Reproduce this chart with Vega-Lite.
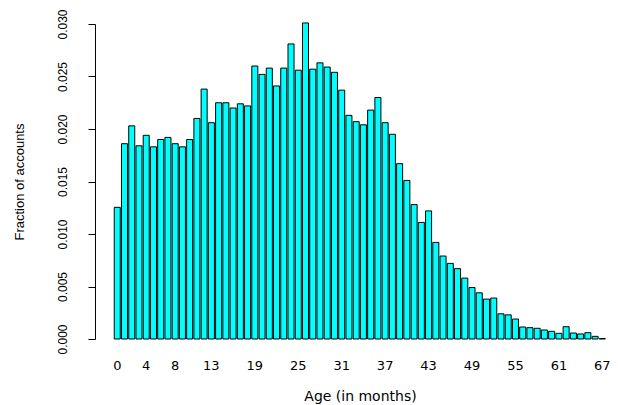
{
  "$schema": "https://vega.github.io/schema/vega-lite/v6.json",
  "width": 505.6,
  "height": 315,
  "autosize": {"type": "none"},
  "padding": {"left": 107, "top": 24, "right": 5, "bottom": 66},
  "background": "white",
  "config": {"view": {"stroke": null}},
  "data": {
    "values": [
      {"age": 0, "frac": 0.01254}, {"age": 1, "frac": 0.0186}, {"age": 2, "frac": 0.0203},
      {"age": 3, "frac": 0.0184}, {"age": 4, "frac": 0.0194}, {"age": 5, "frac": 0.0183},
      {"age": 6, "frac": 0.019}, {"age": 7, "frac": 0.0192}, {"age": 8, "frac": 0.0186},
      {"age": 9, "frac": 0.0183}, {"age": 10, "frac": 0.019}, {"age": 11, "frac": 0.021},
      {"age": 12, "frac": 0.0238}, {"age": 13, "frac": 0.0206}, {"age": 14, "frac": 0.0225},
      {"age": 15, "frac": 0.0225}, {"age": 16, "frac": 0.022}, {"age": 17, "frac": 0.0224},
      {"age": 18, "frac": 0.0222}, {"age": 19, "frac": 0.026}, {"age": 20, "frac": 0.0252},
      {"age": 21, "frac": 0.0258}, {"age": 22, "frac": 0.0241}, {"age": 23, "frac": 0.0258},
      {"age": 24, "frac": 0.0281}, {"age": 25, "frac": 0.0256}, {"age": 26, "frac": 0.0301},
      {"age": 27, "frac": 0.0257}, {"age": 28, "frac": 0.0263}, {"age": 29, "frac": 0.0259},
      {"age": 30, "frac": 0.0254}, {"age": 31, "frac": 0.0237}, {"age": 32, "frac": 0.0213},
      {"age": 33, "frac": 0.0207}, {"age": 34, "frac": 0.0204}, {"age": 35, "frac": 0.0218},
      {"age": 36, "frac": 0.023}, {"age": 37, "frac": 0.0206}, {"age": 38, "frac": 0.0195},
      {"age": 39, "frac": 0.0167}, {"age": 40, "frac": 0.0151}, {"age": 41, "frac": 0.0128},
      {"age": 42, "frac": 0.0111}, {"age": 43, "frac": 0.0122}, {"age": 44, "frac": 0.0092},
      {"age": 45, "frac": 0.0079}, {"age": 46, "frac": 0.0072}, {"age": 47, "frac": 0.0067},
      {"age": 48, "frac": 0.0058}, {"age": 49, "frac": 0.0049}, {"age": 50, "frac": 0.0044},
      {"age": 51, "frac": 0.0038}, {"age": 52, "frac": 0.0039}, {"age": 53, "frac": 0.0024},
      {"age": 54, "frac": 0.0023}, {"age": 55, "frac": 0.0019}, {"age": 56, "frac": 0.00114},
      {"age": 57, "frac": 0.00108}, {"age": 58, "frac": 0.00102}, {"age": 59, "frac": 0.00086},
      {"age": 60, "frac": 0.00073}, {"age": 61, "frac": 0.00054}, {"age": 62, "frac": 0.00117},
      {"age": 63, "frac": 0.00057}, {"age": 64, "frac": 0.00048}, {"age": 65, "frac": 0.0006},
      {"age": 66, "frac": 0.00025}, {"age": 67, "frac": 0.00004}
    ]
  },
  "mark": {"type": "bar", "fill": "#00FFFF", "stroke": "#000000", "strokeWidth": 1, "opacity": 1},
  "encoding": {
    "x": {
      "field": "age",
      "type": "ordinal",
      "scale": {"paddingInner": 0.1667, "paddingOuter": 1, "align": 0.5},
      "axis": {
        "title": "Age (in months)",
        "values": [0, 4, 8, 13, 19, 25, 31, 37, 43, 49, 55, 61, 67],
        "labelAngle": 0,
        "labelOverlap": false,
        "labelFont": "DejaVu Sans",
        "labelFontSize": 13,
        "labelColor": "#000000",
        "labelBaseline": "middle",
        "labelPadding": 27,
        "domain": false,
        "ticks": false,
        "tickSize": 0,
        "grid": false,
        "titleFont": "DejaVu Sans",
        "titleFontSize": 14,
        "titleFontWeight": "normal",
        "titleColor": "#000000",
        "titleAlign": "center",
        "titleBaseline": "alphabetic",
        "titleX": 253,
        "titleY": 62
      }
    },
    "y": {
      "field": "frac",
      "type": "quantitative",
      "scale": {"domain": [0, 0.03], "nice": false, "zero": true},
      "axis": {
        "title": "Fraction of accounts",
        "values": [0, 0.005, 0.01, 0.015, 0.02, 0.025, 0.03],
        "format": ".3f",
        "offset": 12,
        "grid": false,
        "domainColor": "#000000",
        "domainWidth": 1,
        "tickColor": "#000000",
        "tickWidth": 1,
        "tickSize": 7,
        "labelAngle": 270,
        "labelAlign": "center",
        "labelBaseline": "middle",
        "labelPadding": 25,
        "labelFlush": false,
        "labelOverlap": false,
        "labelFont": "Liberation Sans",
        "labelFontSize": 12,
        "labelColor": "#000000",
        "titleFont": "Liberation Sans",
        "titleFontSize": 13,
        "titleFontWeight": "normal",
        "titleColor": "#000000",
        "titleAngle": 270,
        "titleAlign": "center",
        "titleBaseline": "middle",
        "titleX": -75,
        "titleY": 157.5
      }
    }
  }
}
